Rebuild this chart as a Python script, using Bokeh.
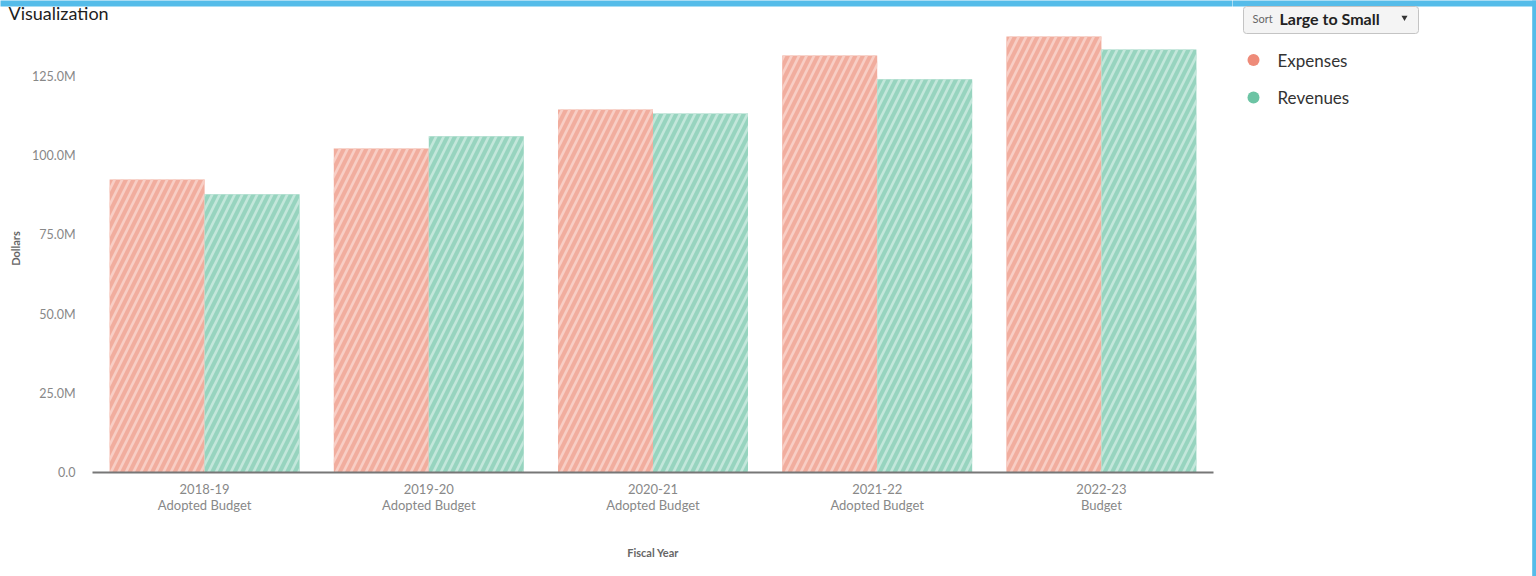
from bokeh.plotting import figure
from bokeh.models import (FactorRange, Range1d, FixedTicker, CategoricalAxis, ColumnDataSource,
                          CustomJSTickFormatter)
from bokeh.transform import dodge
from bokeh.layouts import column, row
from bokeh.core.properties import value
from bokeh.embed import file_html
from bokeh.resources import INLINE

# Budget data (dollars)
years = ["2018-19", "2019-20", "2020-21", "2021-22", "2022-23"]
year_notes = ["Adopted Budget", "Adopted Budget", "Adopted Budget", "Adopted Budget", "Budget"]
expenses = [92.5e6, 102.3e6, 114.6e6, 131.6e6, 137.6e6]
revenues = [87.8e6, 106.1e6, 113.3e6, 124.1e6, 133.5e6]
series = ["Expenses", "Revenues"]
y_ticks = [0, 25e6, 50e6, 75e6, 100e6, 125e6]
y_tick_labels = ["0.0", "25.0M", "50.0M", "75.0M", "100.0M", "125.0M"]

FONT = "Lato"
ACCENT = "#55bce9"
EXP_FILL, EXP_HATCH, EXP_DOT = "#f1ad9e", "#f8cec5", "#ee8b79"
REV_FILL, REV_HATCH, REV_DOT = "#97d4bf", "#c3e7db", "#6cc4a4"


def blank(fig):
    fig.axis.visible = False
    fig.grid.visible = False
    fig.outline_line_color = None
    fig.frame_align = False
    return fig


# header strip with the title
head = blank(figure(width=1232, height=24, x_range=Range1d(0, 1232), y_range=Range1d(24, 0),
                    min_border=0, output_backend="svg", toolbar_location=None, title=None))
head.quad(left=[-2], right=[1236], top=[-2], bottom=[6], fill_color=ACCENT, line_color=None)
head.text(x=[8], y=[12], text=["Visualization"], text_font=value(FONT),
          text_font_size="18px", text_color="#1e1e1e", text_baseline="middle")

# main bar chart
src = ColumnDataSource(dict(year=years, expenses=expenses, revenues=revenues))

p = figure(
    x_range=FactorRange(*years, range_padding=0),
    y_range=Range1d(0, 141.41e6),
    width=1232, height=552,
    min_border_left=92, min_border_right=19,
    min_border_top=0, min_border_bottom=104,
    output_backend="svg", toolbar_location=None, title=None,
)
p.frame_align = False
p.outline_line_color = None
p.xgrid.visible = False
p.ygrid.visible = False

bar_w = 0.4237
p.vbar(x=dodge("year", -bar_w / 2, range=p.x_range), top="expenses", width=bar_w,
       source=src, fill_color=EXP_FILL, line_color=None,
       hatch_pattern="right_diagonal_line", hatch_color=EXP_HATCH,
       hatch_scale=15, hatch_weight=2.7)
p.vbar(x=dodge("year", bar_w / 2, range=p.x_range), top="revenues", width=bar_w,
       source=src, fill_color=REV_FILL, line_color=None,
       hatch_pattern="right_diagonal_line", hatch_color=REV_HATCH,
       hatch_scale=15, hatch_weight=2.7)

# y axis
ya = p.yaxis[0]
ya.ticker = FixedTicker(ticks=y_ticks)
ya.major_label_overrides = {t: s for t, s in zip(y_ticks, y_tick_labels)}
ya.axis_line_color = None
ya.major_tick_line_color = None
ya.minor_tick_line_color = None
ya.major_tick_out = 0
ya.major_label_text_font = FONT
ya.major_label_text_font_size = "12.5px"
ya.major_label_text_color = "#888888"
ya.major_label_standoff = 17
ya.axis_label = "Dollars"
ya.axis_label_text_font = FONT
ya.axis_label_text_font_style = "bold"
ya.axis_label_text_font_size = "11px"
ya.axis_label_text_color = "#666666"
ya.axis_label_standoff = 7

# x axis: year on the first line, budget stage on the second
xa = p.xaxis[0]
xa.axis_line_color = "#777777"
xa.axis_line_width = 2
xa.major_tick_line_color = None
xa.minor_tick_line_color = None
xa.major_tick_out = 0
xa.major_tick_in = 0
xa.major_label_text_font = FONT
xa.major_label_text_font_size = "13px"
xa.major_label_text_color = "#888888"
xa.major_label_standoff = 11

stage_of = dict(zip(years, year_notes))
xa2 = CategoricalAxis(
    formatter=CustomJSTickFormatter(args=dict(stage_of=stage_of), code="return stage_of[tick]"),
    axis_line_color=None, major_tick_line_color=None, minor_tick_line_color=None,
    major_tick_out=0, major_tick_in=0,
    major_label_text_font=FONT, major_label_text_font_size="13px",
    major_label_text_color="#888888", major_label_standoff=0,
    axis_label="Fiscal Year", axis_label_text_font=FONT,
    axis_label_text_font_style="bold", axis_label_text_font_size="11px",
    axis_label_text_color="#666666", axis_label_standoff=30,
)
p.add_layout(xa2, "below")

# sidebar: sort control and legend
s = blank(figure(width=304, height=576, x_range=Range1d(0, 304), y_range=Range1d(576, 0),
                 min_border=0, output_backend="svg", toolbar_location=None, title=None))
s.quad(left=[-4], right=[306], top=[-2], bottom=[6], fill_color=ACCENT, line_color=None)
s.quad(left=[299.7], right=[306], top=[-2], bottom=[578], fill_color=ACCENT, line_color=None)

s.quad(left=[11], right=[186], top=[6], bottom=[33], fill_color="#f4f4f4",
       line_color="#c4c4c4", line_width=1, border_radius=3)
s.text(x=[20], y=[18], text=["Sort"], text_font=value(FONT), text_font_size="11px",
       text_color="#666666", text_baseline="middle")
s.text(x=[47], y=[18], text=["Large to Small"], text_font=value(FONT),
       text_font_size="16px", text_font_style="bold", text_color="#222222",
       text_baseline="middle")
s.scatter(x=[172], y=[17], marker="inverted_triangle", size=6, fill_color="#333333",
          line_color=None)

s.scatter(x=[21, 21], y=[59.5, 97], size=12, fill_color=[EXP_DOT, REV_DOT], line_color=None)
s.text(x=[45, 45], y=[59.5, 97], text=series, text_font=value(FONT), text_font_size="17px",
       text_color="#333333", text_baseline="middle")

layout = row(column(head, p, spacing=0), s, spacing=0)

open("out.html", "w").write(file_html(layout, INLINE))
